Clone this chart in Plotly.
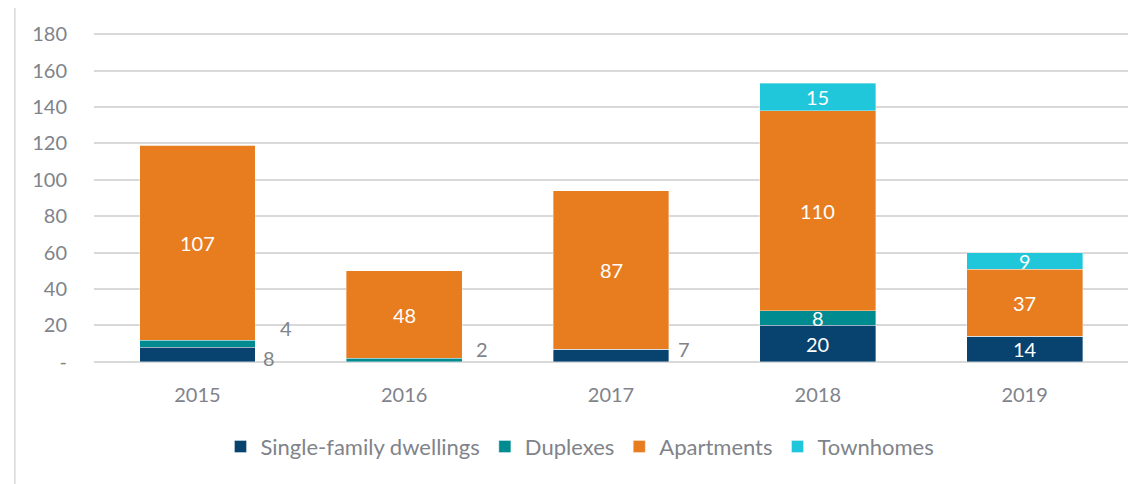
import plotly.graph_objects as go

years = ["2015", "2016", "2017", "2018", "2019"]
single_family = [8, 0, 7, 20, 14]
duplexes = [4, 2, 0, 8, 0]
apartments = [107, 48, 87, 110, 37]
townhomes = [0, 0, 0, 15, 9]

series_names = ["Single-family dwellings", "Duplexes", "Apartments", "Townhomes"]
series_values = [single_family, duplexes, apartments, townhomes]
series_colors = ["#08426E", "#008B90", "#E87D20", "#20C6D9"]

y_tickvals = [0, 20, 40, 60, 80, 100, 120, 140, 160, 180]
y_ticktext = ["-", "20", "40", "60", "80", "100", "120", "140", "160", "180"]

# labels drawn outside the bars (series index, year index) -> (xshift, yshift) in px
outside_labels = {(0, 0): (72, -3), (1, 0): (89, 16), (1, 1): (78, 11), (0, 2): (73, 7)}

FONT = "Lato"
GRAY = "#80838A"

fig = go.Figure()
for name, vals, col in zip(series_names, series_values, series_colors):
    fig.add_trace(go.Bar(
        name=name, x=years, y=vals,
        marker=dict(color=col, line=dict(width=0.6, color="rgba(255,255,255,0.6)")),
        hoverinfo="x+y+name",
    ))

annotations = []
for si, vals in enumerate(series_values):
    for yi, v in enumerate(vals):
        if v <= 0:
            continue
        base = sum(series_values[k][yi] for k in range(si))
        mid = base + v / 2
        if (si, yi) in outside_labels:
            xs, ys = outside_labels[(si, yi)]
            annotations.append(dict(x=yi, y=mid, text=str(v), showarrow=False,
                                    xshift=xs, yshift=ys,
                                    font=dict(family=FONT, size=20, color=GRAY)))
        else:
            annotations.append(dict(x=yi, y=mid, text=str(v), showarrow=False,
                                    font=dict(family=FONT, size=20, color="white")))

# page body adds an 8px margin; figure is sized/margined to compensate
fig.update_layout(
    barmode="stack",
    bargap=0.44,
    width=1140, height=476,
    margin=dict(l=86, r=20, t=25, b=121),
    paper_bgcolor="white", plot_bgcolor="white",
    font=dict(family=FONT, size=20, color=GRAY),
    showlegend=True,
    legend=dict(orientation="h", x=0.47, xanchor="center", y=-0.19, yanchor="top",
                font=dict(family=FONT, size=22, color=GRAY),
                itemwidth=30, tracegroupgap=0, traceorder="normal"),
    annotations=annotations,
    shapes=[dict(type="rect", xref="paper", yref="paper", x0=-0.0765, y0=-2, x1=1.2, y1=1.082,
                 line=dict(color="#D9D9D9", width=1.5), layer="below")],
)
fig.update_xaxes(type="category", range=[-0.5, len(years) - 0.5], showgrid=False,
                 showline=False, zeroline=False, ticks="",
                 ticklabelstandoff=18, tickfont=dict(family=FONT, size=20, color=GRAY))
fig.update_yaxes(range=[-0.6, 180.6], tickvals=y_tickvals, ticktext=y_ticktext,
                 showgrid=True, gridcolor="#D9D9D9", gridwidth=1.5, zeroline=False,
                 showline=False, ticks="", ticklabelstandoff=26,
                 tickfont=dict(family=FONT, size=20, color=GRAY))

fig.write_html("out.html")
